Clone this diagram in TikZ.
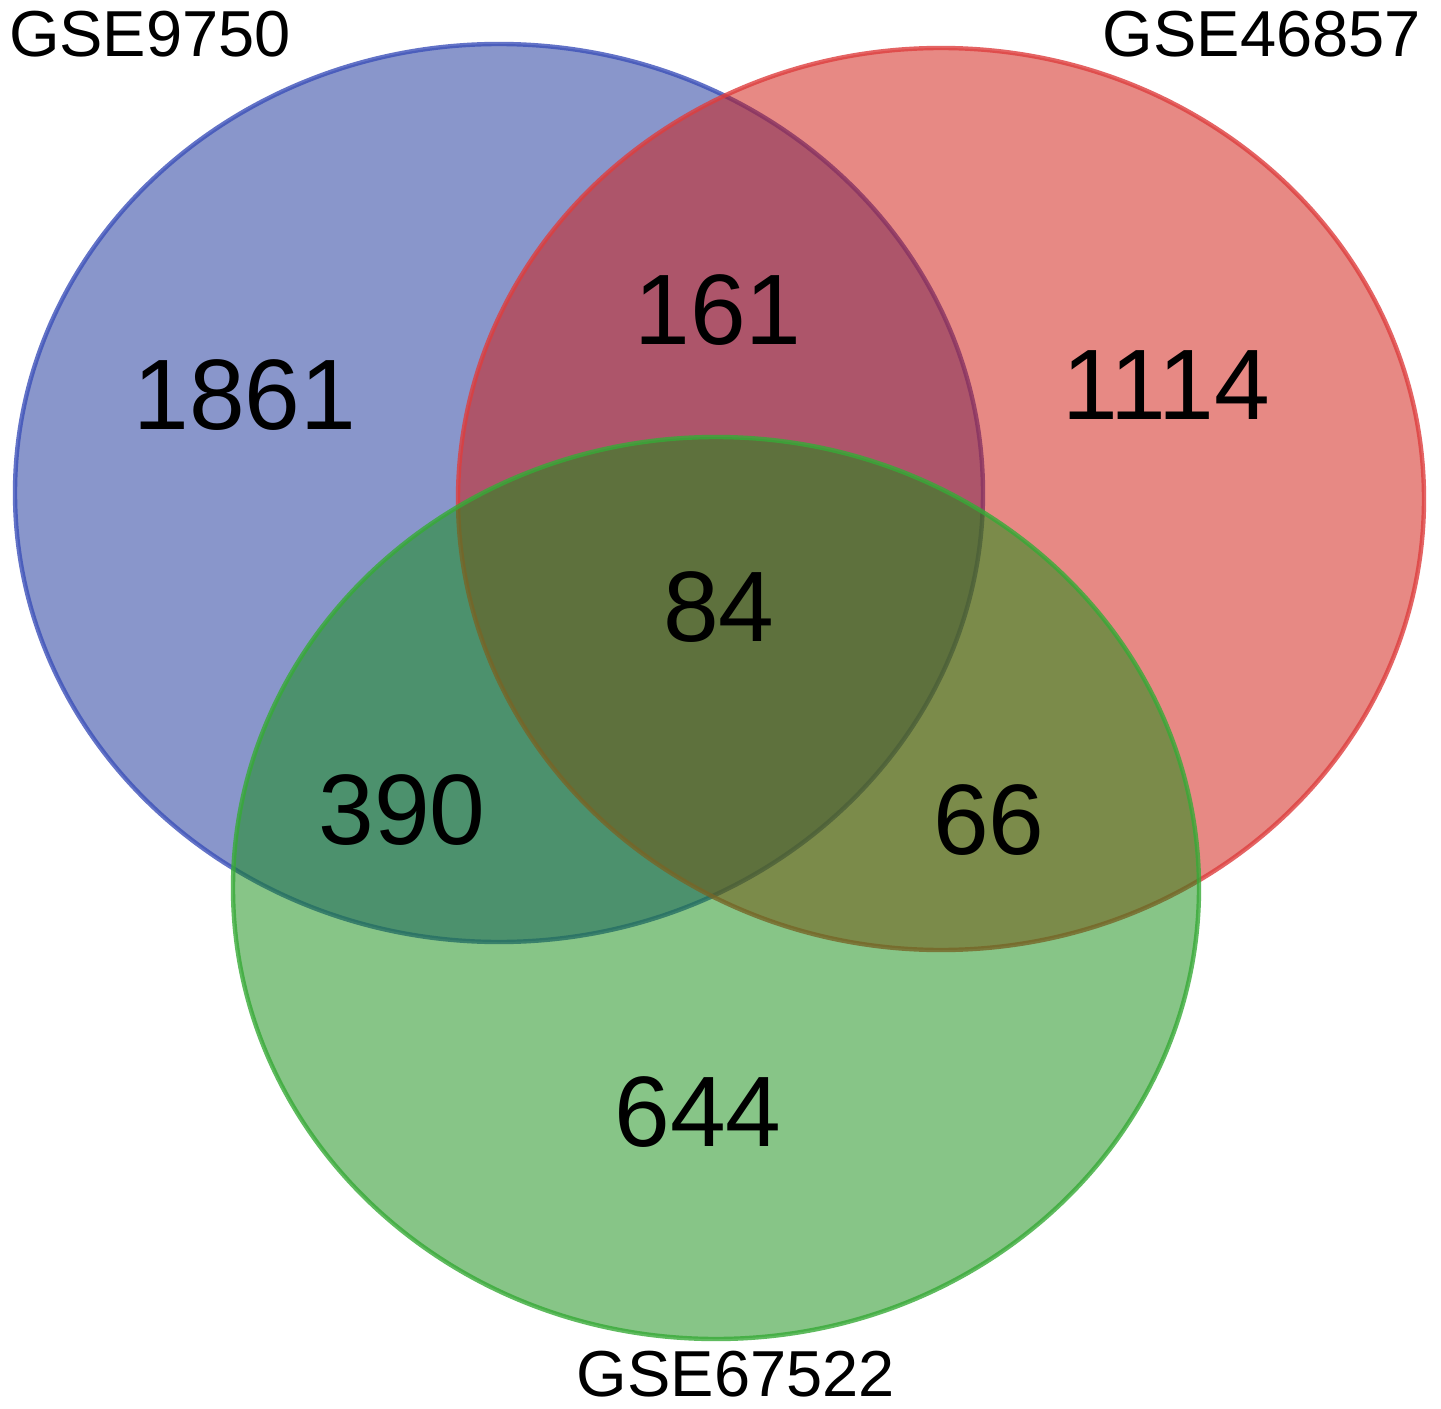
\documentclass[tikz,border=0pt]{standalone}
\usepackage{fontspec}
\setmainfont{Liberation Sans}
\definecolor{bluebase}{RGB}{21,47,153}
\definecolor{redbase}{RGB}{209,21,11}
\definecolor{greenbase}{RGB}{17,141,17}
\definecolor{blueline}{RGB}{60,80,185}
\definecolor{redline}{RGB}{222,62,62}
\definecolor{greenline}{RGB}{55,170,55}
\tikzset{
  vennset/.style={fill opacity=0.5, draw opacity=0.8, line width=2.5pt},
  setlabel/.style={font=\fontsize{37}{37}\selectfont, text=black, inner sep=0pt},
  count/.style={font=\fontsize{57}{57}\selectfont, text=black, inner sep=0pt}
}
\begin{document}
\begin{tikzpicture}[x=0.02cm,y=-0.02cm]
\useasboundingbox (0,0) rectangle (1441,1409);
\fill[white] (0,0) rectangle (1441,1409);
% sets
\path[vennset, fill=bluebase, draw=blueline] (499,493) ellipse [x radius=484, y radius=449];
\path[vennset, fill=redbase, draw=redline] (941,499) ellipse [x radius=483, y radius=451];
\path[vennset, fill=greenbase, draw=greenline] (716,888) ellipse [x radius=483, y radius=451];
% set labels
\node[setlabel] (lA) at (150,34) {GSE9750};
\node[setlabel] (lB) at (1262,34) {GSE46857};
\node[setlabel] (lC) at (736,1374) {GSE67522};
% counts
\node[count] (nA) at (245,395) {1861};
\node[count] (nAB) at (718,310) {161};
\node[count] (nB) at (1166,385) {1114};
\node[count] (nABC) at (719,607) {84};
\node[count] (nAC) at (402,810) {390};
\node[count] (nBC) at (989,820) {66};
\node[count] (nC) at (698,1112) {644};
\end{tikzpicture}
\end{document}
